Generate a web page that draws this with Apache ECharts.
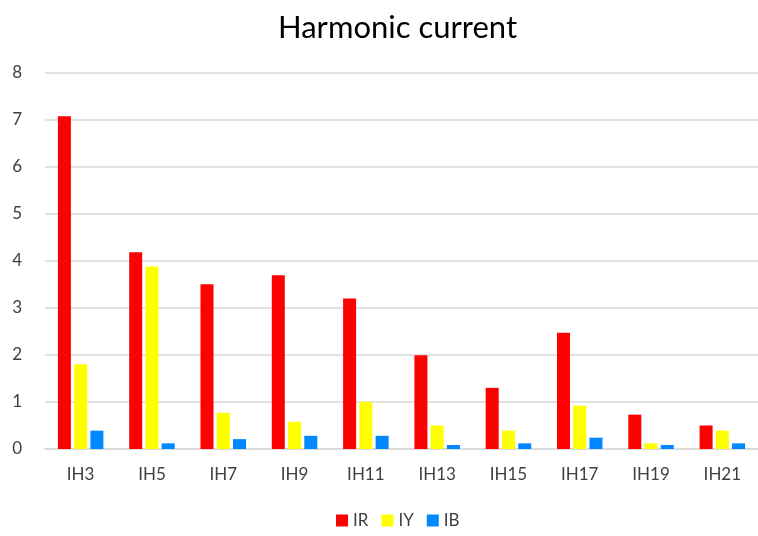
<!DOCTYPE html>
<html><head><meta charset="utf-8">
<script src="https://cdn.jsdelivr.net/npm/echarts@6/dist/echarts.min.js"></script>
<style>html,body{margin:0;padding:0;background:#fff}#c{width:758px;height:536px}</style>
</head><body><div id="c"></div>
<script>
const categories = ['IH3','IH5','IH7','IH9','IH11','IH13','IH15','IH17','IH19','IH21'];
const IR = [7.07, 4.18, 3.50, 3.69, 3.20, 1.99, 1.30, 2.47, 0.73, 0.50];
const IY = [1.80, 3.88, 0.77, 0.58, 1.00, 0.50, 0.39, 0.92, 0.12, 0.39];
const IB = [0.39, 0.12, 0.21, 0.28, 0.28, 0.085, 0.12, 0.24, 0.085, 0.12];
const yTicks = [0,1,2,3,4,5,6,7,8];
const font = 'Lato, "Open Sans", sans-serif';
const chart = echarts.init(document.getElementById('c'));
chart.setOption({
  animation:false,
  title:{text:'Harmonic current',left:273,top:7,textStyle:{fontFamily:font,fontSize:31,fontWeight:'normal',color:'#000'}},
  legend:{bottom:2,left:331,itemWidth:12,itemHeight:12,itemGap:13,icon:'rect',textStyle:{fontFamily:font,fontSize:17,color:'#404040'},data:['IR','IY','IB']},
  grid:{left:45,right:-10,top:72.5,bottom:87},
  xAxis:{type:'category',data:categories,axisTick:{show:false},axisLine:{lineStyle:{color:'#d9d9d9',width:1.5}},axisLabel:{fontFamily:font,fontSize:17,color:'#404040',margin:17}},
  yAxis:{type:'value',min:yTicks[0],max:yTicks[yTicks.length-1],interval:1,axisLabel:{fontFamily:font,fontSize:17,color:'#404040',margin:23},splitLine:{lineStyle:{color:'#d9d9d9',width:1.5}}},
  series:[
    {name:'IR',type:'bar',data:IR,barWidth:13,barGap:'25%',itemStyle:{color:'#ff0000'}},
    {name:'IY',type:'bar',data:IY,barWidth:13,barGap:'25%',itemStyle:{color:'#ffff00'}},
    {name:'IB',type:'bar',data:IB,barWidth:13,barGap:'25%',itemStyle:{color:'#0088ff'}}
  ]
});
</script></body></html>
